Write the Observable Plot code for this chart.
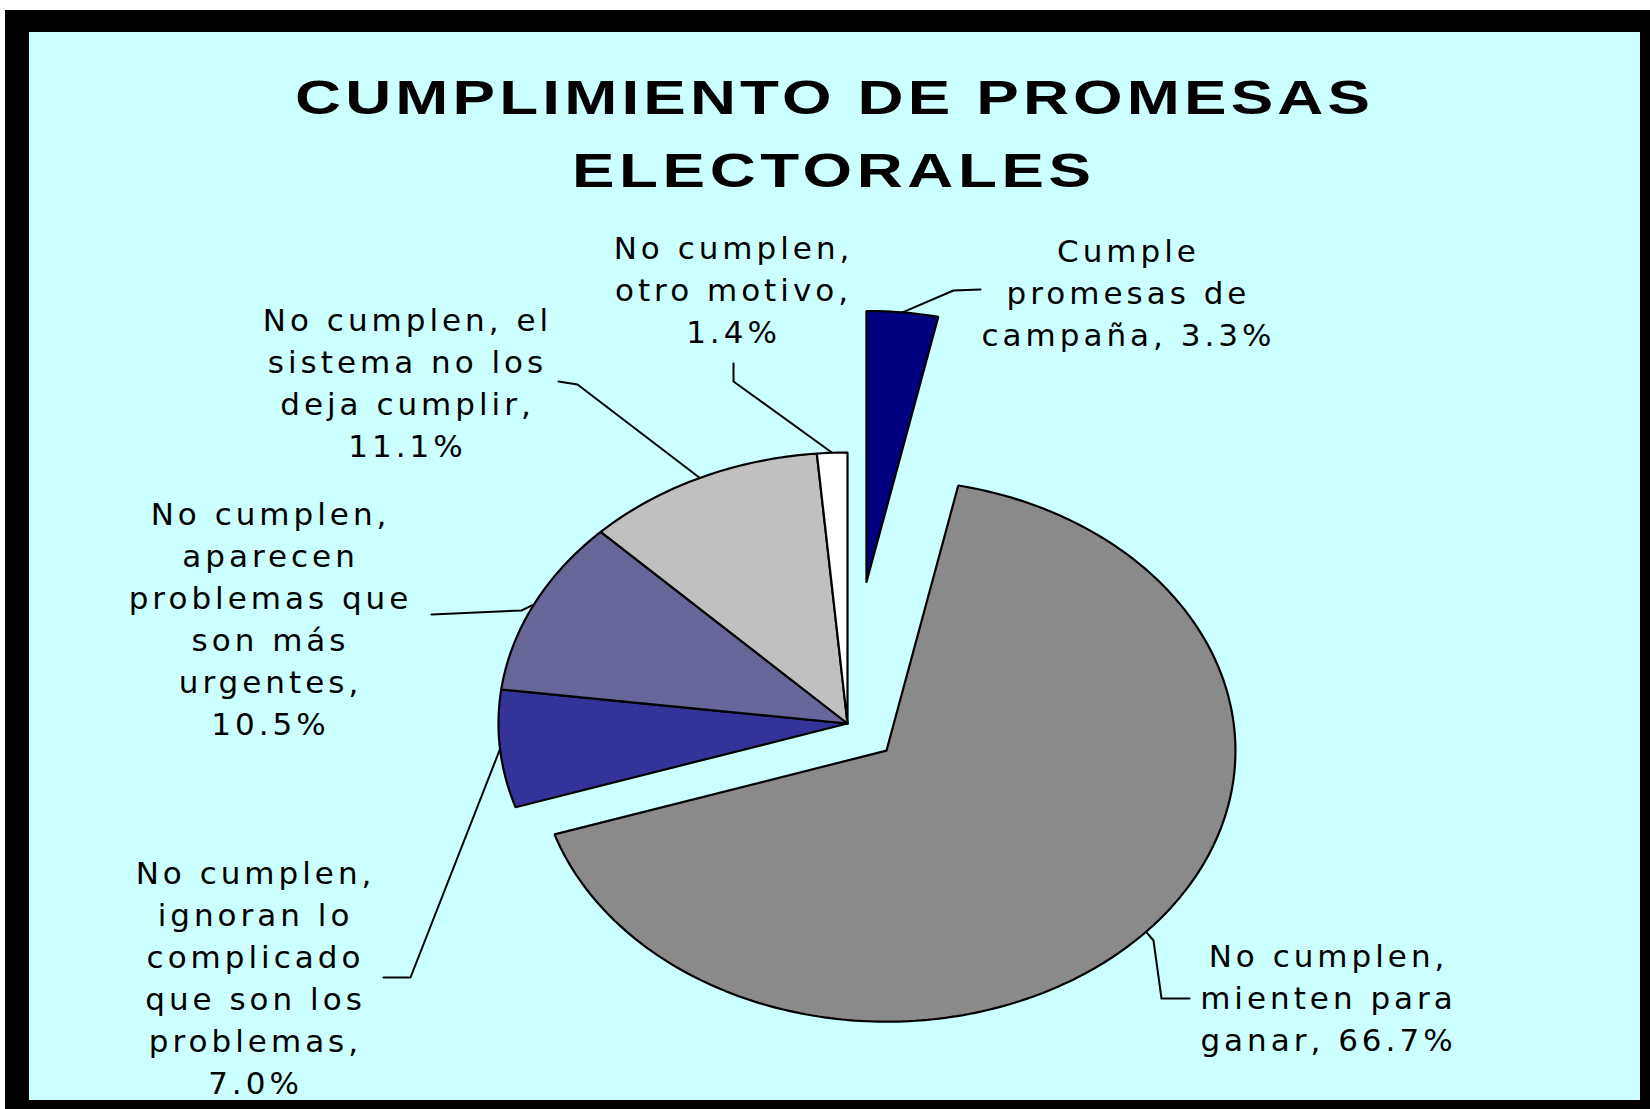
<!DOCTYPE html>
<html><head><meta charset="utf-8">
<script src="https://cdn.jsdelivr.net/npm/d3@7"></script>
<script src="https://cdn.jsdelivr.net/npm/@observablehq/plot@0.6"></script>
<style>
html,body{margin:0;padding:0;background:#fff;}
#page{position:relative;width:1650px;height:1109px;overflow:hidden;background:#fff;}
#frame{position:absolute;left:5px;top:10px;width:1645px;height:1099px;background:#000;}
#inner{position:absolute;left:29px;top:32px;width:1611px;height:1068px;background:#ccffff;}
.title{position:absolute;font-family:"Liberation Sans",Arial,sans-serif;font-weight:bold;font-size:49px;color:#000;white-space:nowrap;line-height:1;transform-origin:0 0;}
#chart{position:absolute;left:0;top:200px;}
</style></head><body>
<div id="page"><div id="frame"></div><div id="inner"></div>
<div class="title" id="t1"></div>
<div class="title" id="t2"></div>
<div id="chart"></div></div>
<script>
// ---- data ----
const titleLines = ["CUMPLIMIENTO DE PROMESAS", "ELECTORALES"];
const categories = [
  "Cumple promesas de campaña",
  "No cumplen, mienten para ganar",
  "No cumplen, ignoran lo complicado que son los problemas",
  "No cumplen, aparecen problemas que son más urgentes",
  "No cumplen, el sistema no los deja cumplir",
  "No cumplen, otro motivo"
];
const values = [3.3, 66.7, 7.0, 10.5, 11.1, 1.4];
const labelLines = [
  ["Cumple", "promesas de", "campaña, "],
  ["No cumplen,", "mienten para", "ganar, "],
  ["No cumplen,", "ignoran lo", "complicado", "que son los", "problemas,", ""],
  ["No cumplen,", "aparecen", "problemas que", "son más", "urgentes,", ""],
  ["No cumplen, el", "sistema no los", "deja cumplir,", ""],
  ["No cumplen,", "otro motivo,", ""]
];

// ---- style / layout ----
const colors = ["#000080", "#8a8a8a", "#333399", "#666699", "#c0c0c0", "#ffffff"];
const explode = [0.525, 0.15, 0, 0, 0, 0];
const CX = 847, CY = 723, RX = 349, RY = 271, SVG_TOP = 200, W = 1650, H = 900;
// label block centers (page px)
const labelAt = [[1126, 290], [1326, 995], [253, 975], [268, 616], [405, 380], [731, 287]];
// leader elbows (page px), drawn from slice arc midpoint
const leaderAt = [
  [[953, 290], [980, 289]],
  [[1153, 940], [1161, 998], [1189, 998]],
  [[410, 977], [383, 977]],
  [[521, 610], [431, 614]],
  [[577, 384], [558, 381]],
  [[733, 381], [733, 363]]
];
const ux = px => (px - CX) / RX;
const uy = py => (CY - py) / RY;

// ---- title ----
const cv = document.createElement("canvas").getContext("2d");
cv.font = "bold 49px 'Liberation Sans'";
const SX = 1.3;
function setTitle(el, text, left, right, baseline) {
  const w = cv.measureText(text).width;
  const ls = ((right - left) / SX - w) / (text.length - 1);
  el.textContent = text;
  el.style.letterSpacing = ls + "px";
  el.style.left = (left - 3) + "px";
  el.style.top = (baseline - 41.5) + "px";
  el.style.transform = `scaleX(${SX})`;
}
setTitle(document.getElementById("t1"), titleLines[0], 298, 1373, 114);
setTitle(document.getElementById("t2"), titleLines[1], 575, 1094, 187);

// ---- pie geometry ----
const arcs = d3.pie().sort(null).value(d => d)(values);
const slices = arcs.map((a, i) => {
  const mid = (a.startAngle + a.endAngle) / 2;
  const ox = explode[i] * Math.sin(mid), oy = explode[i] * Math.cos(mid);
  const n = Math.max(2, Math.ceil((a.endAngle - a.startAngle) / (2 * Math.PI) * 360));
  const pts = [{x: ox, y: oy}];
  for (let k = 0; k <= n; k++) {
    const t = a.startAngle + (a.endAngle - a.startAngle) * k / n;
    pts.push({x: ox + Math.sin(t), y: oy + Math.cos(t)});
  }
  pts.push({x: ox, y: oy});
  return {pts, color: colors[i], mid: {x: ox + Math.sin(mid), y: oy + Math.cos(mid)}};
});

const labels = values.map((v, i) => {
  const lines = labelLines[i].slice();
  lines[lines.length - 1] += v.toFixed(1) + "%";
  return {name: categories[i], text: lines.join("\n"), x: ux(labelAt[i][0]), y: uy(labelAt[i][1])};
});

const leaders = [];
slices.forEach((s, i) => {
  leaders.push({k: i, x: s.mid.x, y: s.mid.y});
  leaderAt[i].forEach(p => leaders.push({k: i, x: ux(p[0]), y: uy(p[1])}));
});

const chart = Plot.plot({
  width: W, height: H, margin: 0,
  x: {domain: [ux(0), ux(W)], axis: null},
  y: {domain: [uy(SVG_TOP + H), uy(SVG_TOP)], axis: null},
  style: {background: "transparent", letterSpacing: "4px", overflow: "visible"},
  marks: [
    ...slices.map(s => Plot.line(s.pts, {x: "x", y: "y", fill: s.color, stroke: "#000", strokeWidth: 2.2, strokeLinejoin: "miter", curve: "linear"})),
    Plot.line(leaders, {x: "x", y: "y", z: "k", stroke: "#000", strokeWidth: 2, curve: "linear"}),
    Plot.text(labels, {x: "x", y: "y", text: "text", fontSize: 31, lineHeight: 1.36, fontFamily: "DejaVu Sans, sans-serif", fill: "#000", textAnchor: "middle", lineAnchor: "middle", dx: 2})
  ]
});
document.getElementById("chart").appendChild(chart);
</script>
</body></html>
